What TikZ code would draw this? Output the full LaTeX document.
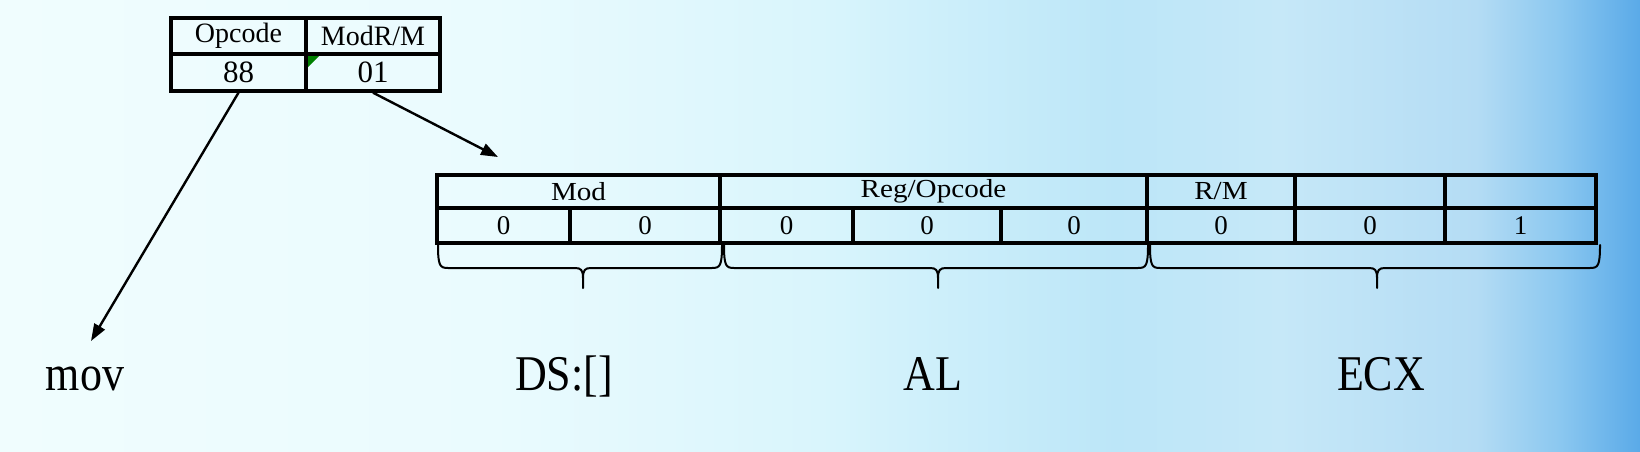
\documentclass[tikz,border=0pt]{standalone}
\usepackage{fontspec}
\setmainfont{Liberation Serif}
\newfontfamily\cellfont{Liberation Serif}
\newfontfamily\widefont[FakeStretch=1.12]{Liberation Serif}
\newfontfamily\labfont[FakeStretch=0.88]{Liberation Serif}
\usetikzlibrary{arrows.meta}
\definecolor{bga}{HTML}{F0FDFE}
\definecolor{bgb}{HTML}{EAFBFE}
\definecolor{bgc}{HTML}{D9F5FC}
\definecolor{bgd}{HTML}{BCE6F8}
\definecolor{bge}{HTML}{C6E8F8}
\definecolor{bgf}{HTML}{B4DCF4}
\definecolor{bgg}{HTML}{8CC8F0}
\definecolor{bgh}{HTML}{5AAAE8}
\definecolor{markgreen}{HTML}{008000}
\pgfdeclarehorizontalshading{bgshade}{100bp}{color(0bp)=(bga); color(25bp)=(bga); color(40bp)=(bgb); color(50bp)=(bgc); color(59bp)=(bgd); color(64bp)=(bge); color(70bp)=(bgf); color(72.5bp)=(bgg); color(75bp)=(bgh); color(100bp)=(bgh)}
\tikzset{
  cell/.style={draw, line width=3.3pt, rectangle, inner sep=0pt, font=\widefont\fontsize{26}{28}\selectfont},
  bitcell/.style={cell, font=\cellfont\fontsize{27}{29}\selectfont},
  topcell/.style={cell, minimum width=135pt, minimum height=36pt, font=\cellfont\fontsize{28}{30}\selectfont},
  topnum/.style={topcell, minimum height=37pt, font=\cellfont\fontsize{31}{33}\selectfont},
  bigtext/.style={inner sep=0pt, anchor=base, font=\labfont\fontsize{50}{52}\selectfont},
  link/.style={line width=2.4pt, -{Triangle[length=17pt,width=12pt]}},
  bracestyle/.style={line width=2pt, line cap=round, line join=round}
}
\begin{document}
\begin{tikzpicture}[x=1pt, y=-1pt]
\useasboundingbox (0,0) rectangle (1640,451);
\fill[shading=bgshade] (0,0) rectangle (1640,451);

% top table
\node[topcell, minimum width=135pt] (opc) at (238.5,36) {Opcode};
\node[topcell, minimum width=134pt] (modrm) at (373,36) {ModR/M};
\node[topnum, minimum width=135pt] (n88) at (238.5,72.5) {88};
\node[topnum, minimum width=134pt] (n01) at (373,72.5) {01};
\fill[markgreen] (308,56) -- (319,56) -- (308,67) -- cycle;

% lower table, header row
\node[cell, minimum width=283pt, minimum height=33pt] (hmod) at (578.5,191.5) {Mod};
\node[cell, minimum width=427pt, minimum height=33pt] (hreg) at (933.5,191.5) {Reg/Opcode};
\node[cell, minimum width=148pt, minimum height=33pt] (hrm) at (1221,191.5) {R/M};
\node[cell, minimum width=150pt, minimum height=33pt] (he1) at (1370,191.5) {};
\node[cell, minimum width=151pt, minimum height=33pt] (he2) at (1520.5,191.5) {};

% lower table, bit row
\node[bitcell, minimum width=133pt, minimum height=35pt] (b1) at (503.5,225.5) {0};
\node[bitcell, minimum width=150pt, minimum height=35pt] (b2) at (645,225.5) {0};
\node[bitcell, minimum width=133pt, minimum height=35pt] (b3) at (786.5,225.5) {0};
\node[bitcell, minimum width=148pt, minimum height=35pt] (b4) at (927,225.5) {0};
\node[bitcell, minimum width=146pt, minimum height=35pt] (b5) at (1074,225.5) {0};
\node[bitcell, minimum width=148pt, minimum height=35pt] (b6) at (1221,225.5) {0};
\node[bitcell, minimum width=150pt, minimum height=35pt] (b7) at (1370,225.5) {0};
\node[bitcell, minimum width=151pt, minimum height=35pt] (b8) at (1520.5,225.5) {1};

% braces
\draw[bracestyle] (438,245) .. controls (438,266) and (440,268) .. (448,268) -- (575,268) .. controls (581,268) and (583,270) .. (583,278) -- (583,288);
\draw[bracestyle] (722,245) .. controls (722,266) and (720,268) .. (712,268) -- (591,268) .. controls (585,268) and (583,270) .. (583,278);
\draw[bracestyle] (724,245) .. controls (724,266) and (726,268) .. (734,268) -- (930,268) .. controls (936,268) and (938,270) .. (938,278) -- (938,288);
\draw[bracestyle] (1148,245) .. controls (1148,266) and (1146,268) .. (1138,268) -- (946,268) .. controls (940,268) and (938,270) .. (938,278);
\draw[bracestyle] (1150,245) .. controls (1150,266) and (1152,268) .. (1160,268) -- (1369,268) .. controls (1375,268) and (1377,270) .. (1377,278) -- (1377,288);
\draw[bracestyle] (1600,245) .. controls (1600,266) and (1598,268) .. (1590,268) -- (1385,268) .. controls (1379,268) and (1377,270) .. (1377,278);

% labels
\node[bigtext] (mov) at (85,390) {mov};
\node[bigtext] (ds) at (564,390) {DS:[]};
\node[bigtext] (al) at (933,390) {AL};
\node[bigtext] (ecx) at (1381,390) {ECX};

% arrows
\coordinate (movtip) at (91,341);
\coordinate (modtip) at (498,157);
\draw[link] (n88.south) -- (movtip);
\draw[link] (n01.south) -- (modtip);
\end{tikzpicture}
\end{document}
